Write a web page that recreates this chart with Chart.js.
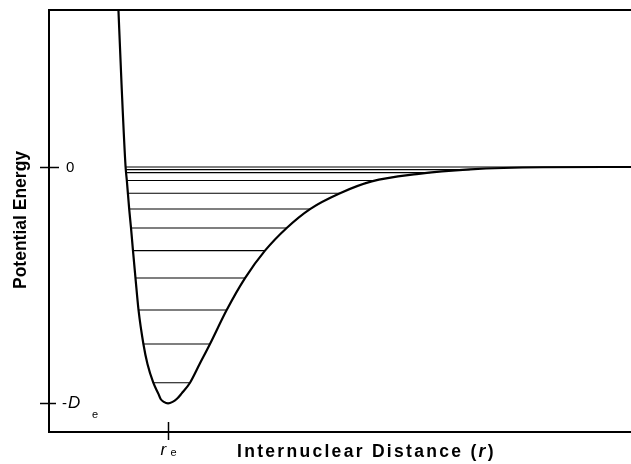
<!DOCTYPE html>
<html>
<head>
<meta charset="utf-8">
<title>Potential Energy</title>
<script src="https://cdn.jsdelivr.net/npm/chart.js@4.4.0/dist/chart.umd.min.js"></script>
<style>
    html, body { margin: 0; padding: 0; background: #fff; }
    #newCanva { width: 631px; height: 464px; position: relative; }
</style>
</head>
<body>
<div id="newCanva"><canvas id="myChart"></canvas></div>
<script>
// potential curve (r in arbitrary units, E in units of De)
const curveR = [1.186, 1.247, 1.316, 1.338, 1.378, 1.409, 1.443, 1.486, 1.538, 1.622, 1.692, 1.792, 1.878, 1.918, 1.973, 2.045,
    2.124, 2.194, 2.277, 2.423, 2.588, 2.766, 3.053, 3.368, 3.711, 4.084, 4.485, 5.000, 5.545, 6.318, 7.234, 8.488, 10.0];
const curveE = [0.707, 0.347, 0.000, -0.059, -0.178, -0.258, -0.354, -0.470, -0.605, -0.749, -0.834, -0.913, -0.959, -0.982, -0.994, -1.000,
    -0.994, -0.982, -0.959, -0.913, -0.834, -0.749, -0.605, -0.470, -0.354, -0.258, -0.178, -0.111, -0.061, -0.030, -0.010, -0.001, 0.000];

// vibrational levels
const levelE = [-0.913, -0.749, -0.605, -0.470, -0.354, -0.258, -0.178, -0.111, -0.057, -0.024, -0.011, 0.000];
const levelLeft = [1.792, 1.622, 1.538, 1.486, 1.443, 1.409, 1.378, 1.361, 1.338, 1.325, 1.320, 1.316];
const levelRight = [2.423, 2.766, 3.053, 3.368, 3.711, 4.084, 4.485, 5.000, 5.620, 6.550, 7.230, 10.0];

// ticks: [main text, subscript]
const yTickVals = [0, -1];
const yTickText = [['0', ''], ['-D', 'e']];
const xTickVals = [2.04];
const xTickText = [['r', 'e']];

const FONT = "'Liberation Sans', Arial, Helvetica, sans-serif";

var datasets = [{
    data: curveR.map((r, i) => ({ x: r, y: curveE[i] })),
    showLine: true,
    borderColor: '#000',
    borderWidth: 2.2,
    pointRadius: 0,
    cubicInterpolationMode: 'monotone'
}];
levelE.forEach(function (e, i) {
    datasets.push({
        data: [{ x: levelLeft[i], y: e }, { x: levelRight[i], y: e }],
        showLine: true,
        borderColor: '#000',
        borderWidth: 1.1,
        pointRadius: 0
    });
});

// draw a string one char at a time with extra spacing, returns end x
function spaced(c, txt, x, y, gap) {
    for (const ch of txt) {
        c.fillText(ch, x, y);
        x += c.measureText(ch).width + gap;
    }
    return x;
}

const labelsPlugin = {
    id: 'labelsPlugin',
    afterDraw(chart) {
        const c = chart.ctx;
        const xs = chart.scales.x, ys = chart.scales.y;
        const area = chart.chartArea;
        c.save();
        c.strokeStyle = '#000';
        c.fillStyle = '#000';
        c.lineWidth = 1.5;
        // y ticks crossing the axis
        yTickVals.forEach(function (v, i) {
            const py = Math.round(ys.getPixelForValue(v)) + 0.5;
            c.beginPath();
            c.moveTo(area.left - 9, py);
            c.lineTo(area.left + (i == 0 ? 10 : 7), py);
            c.stroke();
            const t = yTickText[i];
            c.textBaseline = 'middle';
            if (t[1] == '') {
                c.font = '15px ' + FONT;
                c.fillText(t[0], area.left + 17, py);
            } else {
                c.font = '15px ' + FONT;
                c.fillText('-', area.left + 13, py);
                c.font = 'italic 17px ' + FONT;
                c.fillText(t[0].slice(1), area.left + 19, py);
                c.font = '11px ' + FONT;
                c.textBaseline = 'alphabetic';
                c.fillText(t[1], area.left + 43, py + 14);
            }
        });
        // x ticks crossing the axis
        xTickVals.forEach(function (v, i) {
            const px = Math.round(xs.getPixelForValue(v)) + 0.5;
            c.beginPath();
            c.moveTo(px, area.bottom - 10);
            c.lineTo(px, area.bottom + 8);
            c.stroke();
            const t = xTickText[i];
            c.textBaseline = 'alphabetic';
            c.font = 'italic 17px ' + FONT;
            c.fillText(t[0], px - 8, area.bottom + 23);
            c.font = '11px ' + FONT;
            c.fillText(t[1], px + 2, area.bottom + 24);
        });
        // x title with italic r
        c.font = 'bold 17.5px ' + FONT;
        const y0 = area.bottom + 25;
        let x0 = spaced(c, 'Internuclear Distance (', 237, y0, 2.3);
        c.font = 'italic bold 17.5px ' + FONT;
        x0 = spaced(c, 'r', x0, y0, 2.3);
        c.font = 'bold 17.5px ' + FONT;
        c.fillText(')', x0, y0);
        // y title
        c.translate(25.5, 0);
        c.rotate(-Math.PI / 2);
        c.font = 'bold 17.5px ' + FONT;
        spaced(c, 'Potential Energy', -289, 0, 0);
        c.restore();
    }
};

const ctx = document.getElementById('myChart');
new Chart(ctx, {
    type: 'scatter',
    data: { datasets: datasets },
    options: {
        responsive: true,
        maintainAspectRatio: false,
        animation: false,
        layout: { padding: 0 },
        plugins: { legend: { display: false }, tooltip: { enabled: false } },
        scales: {
            x: {
                type: 'linear', position: 'bottom', min: 0, max: 10,
                grid: { display: false }, ticks: { display: false },
                border: { display: true, color: '#000', width: 2 },
                afterFit: function (s) { s.height = 32; }
            },
            xTop: {
                type: 'linear', position: 'top', min: 0, max: 10,
                grid: { display: false }, ticks: { display: false },
                border: { display: true, color: '#000', width: 2 },
                afterFit: function (s) { s.height = 10; }
            },
            y: {
                type: 'linear', position: 'left', min: -1.1215, max: 0.6644,
                grid: { display: false }, ticks: { display: false },
                border: { display: true, color: '#000', width: 2 },
                afterFit: function (s) { s.width = 49; }
            }
        }
    },
    plugins: [labelsPlugin]
});
</script>
</body>
</html>
